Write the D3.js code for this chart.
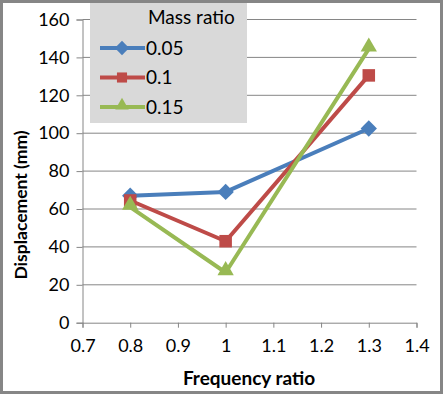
<!DOCTYPE html>
<html>
<head>
<meta charset="utf-8">
<script src="https://cdn.jsdelivr.net/npm/d3@7"></script>
<style>
  body { margin: 0; background: #fff; }
  text { font-family: Lato, "Open Sans", sans-serif; fill: #000; }
</style>
</head>
<body>
<div id="chart"></div>
<script>
// data
const freqRatio = [0.8, 1.0, 1.3];
const massRatios = ["0.05", "0.1", "0.15"];
const disp005 = [67, 69, 102.5];
const disp01 = [64.5, 43, 130.5];
const disp015 = [61, 26.5, 144.5];
const xTicks = [0.7, 0.8, 0.9, 1.0, 1.1, 1.2, 1.3, 1.4];
const yTicks = [0, 20, 40, 60, 80, 100, 120, 140, 160];

const series = [
    { name: massRatios[0], values: disp005, color: "#4A7EBB", marker: "diamond" },
    { name: massRatios[1], values: disp01, color: "#BE4B48", marker: "square" },
    { name: massRatios[2], values: disp015, color: "#98B954", marker: "triangle" }
];

const W = 443, H = 394;
const margin = { top: 19.5, left: 82.5, right: 26.5, bottom: 71.3 };
const width = W - margin.left - margin.right;
const height = H - margin.top - margin.bottom;

const svg = d3.select("#chart").append("svg")
    .attr("width", W)
    .attr("height", H);

svg.append("rect")
    .attr("x", 1.5).attr("y", 1.5)
    .attr("width", W - 3).attr("height", H - 3)
    .attr("fill", "#fff")
    .attr("stroke", "#868686")
    .attr("stroke-width", 3);

const g = svg.append("g")
    .attr("transform", `translate(${margin.left},${margin.top})`);

const xScale = d3.scaleLinear().domain([0.7, 1.4]).range([0, width]);
const yScale = d3.scaleLinear().domain([0, 160]).range([height, 0]);

// gridlines
g.selectAll(".grid")
    .data(yTicks.filter(d => d > 0))
    .enter().append("line")
    .attr("class", "grid")
    .attr("x1", 0).attr("x2", width)
    .attr("y1", d => yScale(d)).attr("y2", d => yScale(d))
    .attr("stroke", "#868686")
    .attr("stroke-width", 1);

const yAxis = g.append("g")
    .call(d3.axisLeft(yScale).tickValues(yTicks).tickSize(6).tickPadding(7).tickFormat(d3.format("d")));
const xAxis = g.append("g")
    .attr("transform", `translate(0,${height})`)
    .call(d3.axisBottom(xScale).tickValues(xTicks).tickSize(5).tickPadding(8).tickFormat(d => d === 1 ? "1" : d.toFixed(1)));

[yAxis, xAxis].forEach(a => {
    a.select(".domain").attr("stroke", "#868686").attr("stroke-width", 1);
    a.selectAll(".tick line").attr("stroke", "#868686");
    a.selectAll(".tick text").attr("font-size", "18px").attr("fill", "#000")
        .style("font-family", "Lato, 'Open Sans', sans-serif");
});
xAxis.selectAll(".tick text").attr("dy", "0.9em");

const symbolFor = m => m === "diamond" ? d3.symbolDiamond2 : m === "square" ? d3.symbolSquare2 : d3.symbolTriangle2;
const sizeFor = m => m === "diamond" ? 170 : m === "square" ? 200 : 190;

const line = d3.line()
    .x((d, i) => xScale(freqRatio[i]))
    .y(d => yScale(d));

series.forEach(s => {
    g.append("path")
        .datum(s.values)
        .attr("fill", "none")
        .attr("stroke", s.color)
        .attr("stroke-width", 4)
        .attr("stroke-linejoin", "round")
        .attr("d", line);
});

series.forEach(s => {
    g.selectAll(".m-" + s.marker)
        .data(s.values)
        .enter().append("path")
        .attr("class", "m-" + s.marker)
        .attr("transform", (d, i) => `translate(${xScale(freqRatio[i])},${yScale(d) - (s.marker === "triangle" ? 2 : 0)})`)
        .attr("d", d3.symbol().type(symbolFor(s.marker)).size(sizeFor(s.marker)))
        .attr("fill", s.color);
});

// legend
const legend = svg.append("g");
legend.append("rect")
    .attr("x", 90).attr("y", 3)
    .attr("width", 157).attr("height", 120)
    .attr("fill", "#D9D9D9");
legend.append("text")
    .attr("x", 148).attr("y", 24)
    .attr("font-size", "19px")
    .text("Mass ratio");
series.forEach((s, i) => {
    const ly = 48 + i * 29.5;
    legend.append("line")
        .attr("x1", 100).attr("x2", 145)
        .attr("y1", ly).attr("y2", ly)
        .attr("stroke", s.color)
        .attr("stroke-width", 4);
    legend.append("path")
        .attr("transform", `translate(122,${ly - (s.marker === "triangle" ? 1.5 : 0)})`)
        .attr("d", d3.symbol().type(symbolFor(s.marker)).size(130))
        .attr("fill", s.color);
    legend.append("text")
        .attr("x", 146).attr("y", ly)
        .attr("dy", "0.36em")
        .attr("font-size", "19px")
        .text(s.name);
});

// axis titles
svg.append("text")
    .attr("x", 249).attr("y", 385)
    .attr("text-anchor", "middle")
    .attr("font-size", "19px")
    .attr("font-weight", "bold")
    .text("Frequency ratio");

svg.append("text")
    .attr("transform", `translate(27,205) rotate(-90)`)
    .attr("text-anchor", "middle")
    .attr("font-size", "17.5px")
    .attr("font-weight", "bold")
    .text("Displacement (mm)");
</script>
</body>
</html>
